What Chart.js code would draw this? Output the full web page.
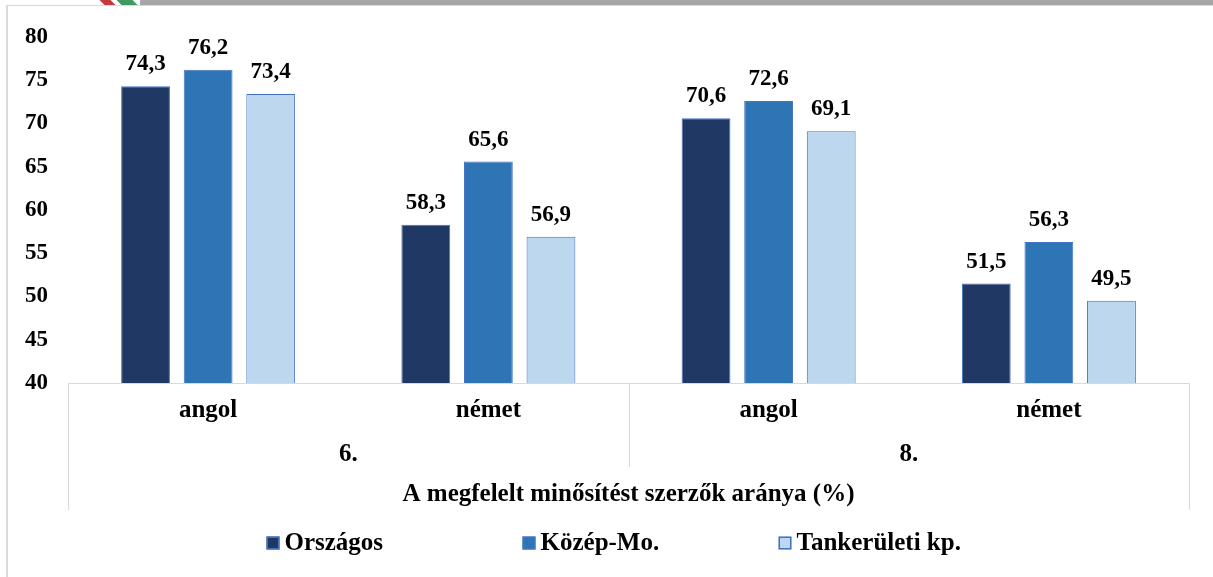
<!DOCTYPE html>
<html>
<head>
<meta charset="utf-8">
<script src="https://cdn.jsdelivr.net/npm/chart.js@4/dist/chart.umd.min.js"></script>
<style>
  body { margin: 0; background: #fff; }
  #wrap { position: relative; width: 1213px; height: 577px; overflow: hidden; }
  .topbar { position: absolute; left: 140px; top: 0; right: 0; height: 5px; background: #a6a6a9; }
  .stripe { position: absolute; top: 0; height: 5px; transform: skewX(45deg); }
  .red { left: 102px; width: 11px; background: #c53b3d; }
  .green { left: 119px; width: 16px; background: #3f9a62; }
  .frame { position: absolute; left: 6px; top: 5px; right: 0; bottom: 0;
           border-top: 1px solid #d9d9d9; border-left: 2px solid #d9d9d9; }
  canvas { position: absolute; left: 0; top: 0; }
</style>
</head>
<body>
<div id="wrap">
  <div class="topbar"></div>
  <div class="stripe red"></div>
  <div class="stripe green"></div>
  <div class="frame"></div>
  <canvas id="chart" width="1213" height="577"></canvas>
</div>
<script>
// data
const categories = ["angol", "német", "angol", "német"];
const grades = ["6.", "8."];
const seriesNames = ["Országos", "Közép-Mo.", "Tankerületi kp."];
const orszagos = [74.3, 58.3, 70.6, 51.5];
const kozepMo = [76.2, 65.6, 72.6, 56.3];
const tankeruleti = [73.4, 56.9, 69.1, 49.5];
const axisTitle = "A megfelelt minősítést szerzők aránya (%)";

const FONT = '"Liberation Serif", "Times New Roman", serif';
const SMALL = 23; // y ticks, bar values
const BIG = 25;   // categories, grades, title, legend
Chart.defaults.font.family = FONT;
Chart.defaults.font.size = BIG;
Chart.defaults.font.weight = "bold";
Chart.defaults.color = "#000";

const lineColor = "#d9d9d9";

// numbers above the bars
const valueLabels = {
    id: "valueLabels",
    afterDatasetsDraw(chart) {
        const ctx = chart.ctx;
        ctx.save();
        ctx.font = "bold " + SMALL + "px " + FONT;
        ctx.fillStyle = "#000";
        ctx.textAlign = "center";
        ctx.textBaseline = "alphabetic";
        chart.data.datasets.forEach((ds, i) => {
            chart.getDatasetMeta(i).data.forEach((bar, j) => {
                ctx.fillText(ds.data[j].toFixed(1).replace(".", ","), bar.x, bar.y - 16);
            });
        });
        ctx.restore();
    },
};

// table lines under the axis
const tableLines = {
    id: "tableLines",
    afterDraw(chart) {
        const { x, x2 } = chart.scales;
        const ctx = chart.ctx;
        const base = chart.chartArea.bottom;
        const gradeBottom = x2.bottom - 43;
        const mid = (x.getPixelForValue(1) + x.getPixelForValue(2)) / 2;
        ctx.save();
        ctx.strokeStyle = lineColor;
        ctx.lineWidth = 1;
        ctx.beginPath();
        ctx.moveTo(Math.round(x.left) + 0.5, base);
        ctx.lineTo(Math.round(x.left) + 0.5, x2.bottom);
        ctx.moveTo(Math.round(x.right) + 0.5, base);
        ctx.lineTo(Math.round(x.right) + 0.5, x2.bottom);
        ctx.moveTo(Math.round(mid) + 0.5, base);
        ctx.lineTo(Math.round(mid) + 0.5, gradeBottom);
        ctx.stroke();
        ctx.restore();
    },
};

// legend with equal-width slots like the original
const wideLegend = {
    id: "wideLegend",
    afterDraw(chart) {
        const ctx = chart.ctx;
        const box = 13, gap = 5, slot = 256;
        ctx.save();
        ctx.font = "bold " + BIG + "px " + FONT;
        let cx = (chart.chartArea.left + chart.chartArea.right) / 2 - 362;
        const cy = chart.scales.x2.bottom + 33;
        ctx.textBaseline = "middle";
        ctx.textAlign = "left";
        chart.data.datasets.forEach((ds) => {
            ctx.fillStyle = ds.backgroundColor;
            ctx.fillRect(cx, cy - box / 2, box, box);
            ctx.strokeStyle = ds.borderColor;
            ctx.lineWidth = 1.5;
            ctx.strokeRect(cx + 0.75, cy - box / 2 + 0.75, box - 1.5, box - 1.5);
            ctx.fillStyle = "#000";
            ctx.fillText(ds.label, cx + box + gap, cy + 1);
            cx += slot;
        });
        ctx.restore();
    },
};

new Chart(document.getElementById("chart"), {
    type: "bar",
    data: {
        labels: categories,
        datasets: [
            { label: seriesNames[0], data: orszagos, backgroundColor: "#203864", borderColor: "#4472c4", borderWidth: 1 },
            { label: seriesNames[1], data: kozepMo, backgroundColor: "#2e75b6", borderColor: "#4472c4", borderWidth: 1 },
            { label: seriesNames[2], data: tankeruleti, backgroundColor: "#bdd7ee", borderColor: "#4472c4", borderWidth: 1 },
        ],
    },
    options: {
        responsive: false,
        animation: false,
        barPercentage: 0.78,
        categoryPercentage: 0.67,
        layout: {
            padding: { top: 37, left: 13, right: 24, bottom: 67 },
        },
        scales: {
            y: {
                min: 40,
                max: 80,
                ticks: { stepSize: 5, padding: 12, font: { size: SMALL } },
                grid: { display: false },
                border: { display: false },
            },
            x: {
                weight: 0,
                ticks: { padding: 13, maxRotation: 0, autoSkip: false },
                grid: { display: false, drawTicks: false },
                border: { display: true, color: lineColor, width: 1 },
            },
            x2: {
                type: "category",
                position: "bottom",
                weight: 1,
                labels: grades,
                offset: true,
                ticks: { padding: 1, maxRotation: 0 },
                grid: { display: false, drawTicks: false },
                border: { display: false },
                title: {
                    display: true,
                    text: axisTitle,
                    padding: { top: 9, bottom: 0 },
                },
            },
        },
        plugins: {
            legend: { display: false },
            tooltip: { enabled: false },
        },
    },
    plugins: [valueLabels, tableLines, wideLegend],
});
</script>
</body>
</html>
